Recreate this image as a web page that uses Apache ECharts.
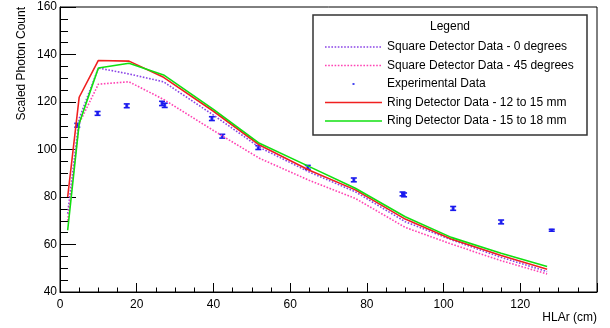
<!DOCTYPE html>
<html>
<head>
<meta charset="utf-8">
<script src="https://cdn.jsdelivr.net/npm/echarts@6/dist/echarts.min.js"></script>
<style>
  html, body { margin: 0; padding: 0; background: #fff; }
  #chart { width: 610px; height: 328px; }
</style>
</head>
<body>
<div id="chart"></div>
<script>
// Simulated detector curves, sampled at these HLAr positions (cm)
const simX = [2, 5, 10, 18, 27, 40, 52, 65, 77, 90, 102, 115, 127];
const squareDeg0 = [73, 113, 134.3, 131.8, 128.5, 114.5, 100.9, 90.5, 82.2, 69.6, 62.0, 54.6, 48.6];
const squareDeg45 = [70, 111, 127.5, 128.5, 121.1, 108.0, 96.3, 87.0, 79.4, 67.2, 60.2, 53.2, 47.6];
const ring12to15 = [80, 122, 137.5, 137.2, 130.4, 116.1, 101.9, 91.3, 83.0, 70.7, 62.3, 55.4, 49.6];
const ring15to18 = [66, 111, 134.3, 136.3, 131.4, 116.9, 102.6, 92.8, 83.7, 71.7, 63.0, 56.3, 50.7];

// Measured points with their uncertainties
const expX = [4.5, 9.8, 17.4, 26.6, 27.3, 39.6, 42.3, 51.7, 64.6, 76.6, 89.3, 89.7, 102.5, 115, 128.2];
const expY = [110.2, 115.2, 118.4, 119.4, 118.6, 113.0, 105.6, 100.8, 92.5, 87.2, 81.3, 80.9, 75.2, 69.5, 66.0];
const expErr = [0.8, 0.8, 0.8, 0.9, 0.9, 0.8, 0.8, 0.8, 0.8, 0.8, 0.8, 0.8, 0.8, 0.8, 0.4];

// Axis ticks
const xTicks = [0, 20, 40, 60, 80, 100, 120];
const yTicks = [40, 60, 80, 100, 120, 140, 160];

const legendNames = [
  'Square Detector Data - 0 degrees',
  'Square Detector Data - 45 degrees',
  'Experimental Data',
  'Ring Detector Data - 12 to 15 mm',
  'Ring Detector Data - 15 to 18 mm'
];

const FONT = '"Liberation Sans", Arial, Helvetica, sans-serif';
const BLUE = '#1a1aee';

const pairs = (xs, ys) => xs.map((x, i) => [x, ys[i]]);

// Legend key shapes: a 57x14 box (fixed by the two leading moves) holding
// a solid bar, a row of dots, or a single dot in the middle.
const KEY_BOX = 'path://M0,0M57,14';
const solidKey = KEY_BOX + 'M0,6.2h57v1.6h-57z';
let dottedKey = KEY_BOX;
for (let x = 0; x <= 55.4; x += 3.2) {
  dottedKey += 'M' + x.toFixed(1) + ',6.2h1.6v1.6h-1.6z';
}
const dotKey = KEY_BOX + 'M27.5,6h2v2h-2z';

function lineSeries(name, ys, color, dotted) {
  return {
    name: name,
    type: 'line',
    data: pairs(simX, ys),
    symbol: 'none',
    smooth: false,
    lineStyle: {
      color: color,
      width: 1.6,
      type: dotted ? [1.6, 1.6] : 'solid'
    },
    itemStyle: { color: color },
    animation: false
  };
}

const chart = echarts.init(document.getElementById('chart'), null, { renderer: 'canvas' });

chart.setOption({
  backgroundColor: '#fff',
  animation: false,
  grid: {
    left: 60, right: 13, top: 7, bottom: 36,
    show: true, borderColor: '#000', borderWidth: 1, backgroundColor: 'transparent'
  },
  xAxis: {
    type: 'value',
    min: 0, max: 140, interval: 20,
    axisLine: { lineStyle: { color: '#000', width: 1 } },
    axisTick: { inside: true, length: 9, lineStyle: { color: '#000' } },
    minorTick: { show: true, splitNumber: 4, length: 4.5, lineStyle: { color: '#000' } },
    splitLine: { show: false },
    axisLabel: {
      margin: 7, color: '#000', fontSize: 12, fontFamily: FONT,
      formatter: v => xTicks.includes(v) ? String(v) : ''
    }
  },
  yAxis: {
    type: 'value',
    min: 40, max: 160, interval: 20,
    axisLine: { lineStyle: { color: '#000', width: 1 } },
    axisTick: { inside: true, length: 16, lineStyle: { color: '#000' } },
    minorTick: { show: true, splitNumber: 4, length: 8, lineStyle: { color: '#000' } },
    splitLine: { show: false },
    axisLabel: {
      margin: 3, color: '#000', fontSize: 12, fontFamily: FONT,
      formatter: v => yTicks.includes(v) ? String(v) : ''
    }
  },
  legend: {
    left: 320, top: 35,
    orient: 'vertical',
    itemWidth: 57, itemHeight: 14, itemGap: 4.5,
    textStyle: { color: '#000', fontSize: 12, fontFamily: FONT, lineHeight: 14 },
    selectedMode: false,
    z: 5,
    data: [
      { name: legendNames[0], icon: dottedKey },
      { name: legendNames[1], icon: dottedKey },
      { name: legendNames[2], icon: dotKey },
      { name: legendNames[3], icon: solidKey },
      { name: legendNames[4], icon: solidKey }
    ]
  },
  graphic: [
    {
      type: 'rect', z: 3,
      shape: { x: 313, y: 15, width: 274, height: 120 },
      style: { fill: '#fff', stroke: '#333', lineWidth: 1.5 }
    },
    {
      type: 'text', z: 4, x: 450, y: 27,
      style: { text: 'Legend', font: '12px ' + FONT, fill: '#000', align: 'center', verticalAlign: 'middle' }
    },
    {
      type: 'text', z: 4, x: 22, y: 7, rotation: Math.PI / 2,
      style: { text: 'Scaled Photon Count', font: '12px ' + FONT, fill: '#000', align: 'right', verticalAlign: 'middle' }
    },
    {
      type: 'text', z: 4, x: 597, y: 318,
      style: { text: 'HLAr (cm)', font: '12px ' + FONT, fill: '#000', align: 'right', verticalAlign: 'middle' }
    }
  ],
  series: [
    lineSeries(legendNames[0], squareDeg0, '#8a44e6', true),
    lineSeries(legendNames[1], squareDeg45, '#ff44b4', true),
    lineSeries(legendNames[3], ring12to15, '#f02020', false),
    lineSeries(legendNames[4], ring15to18, '#10e010', false),
    {
      name: 'errors',
      type: 'custom',
      data: expX.map((x, i) => [x, expY[i], expErr[i]]),
      encode: { x: 0, y: 1 },
      renderItem: function (params, api) {
        const x = api.value(0), y = api.value(1), e = api.value(2);
        const top = api.coord([x, y + e]);
        const bot = api.coord([x, y - e]);
        const hw = 3;
        const st = { stroke: BLUE, lineWidth: 1.6 };
        return {
          type: 'group',
          children: [
            { type: 'line', shape: { x1: top[0], y1: top[1], x2: bot[0], y2: bot[1] }, style: st },
            { type: 'line', shape: { x1: top[0] - hw, y1: top[1], x2: top[0] + hw, y2: top[1] }, style: st },
            { type: 'line', shape: { x1: bot[0] - hw, y1: bot[1], x2: bot[0] + hw, y2: bot[1] }, style: st }
          ]
        };
      },
      animation: false
    },
    {
      name: legendNames[2],
      type: 'scatter',
      data: pairs(expX, expY),
      symbol: 'rect',
      symbolSize: 3,
      itemStyle: { color: BLUE },
      animation: false
    }
  ]
});
</script>
</body>
</html>
